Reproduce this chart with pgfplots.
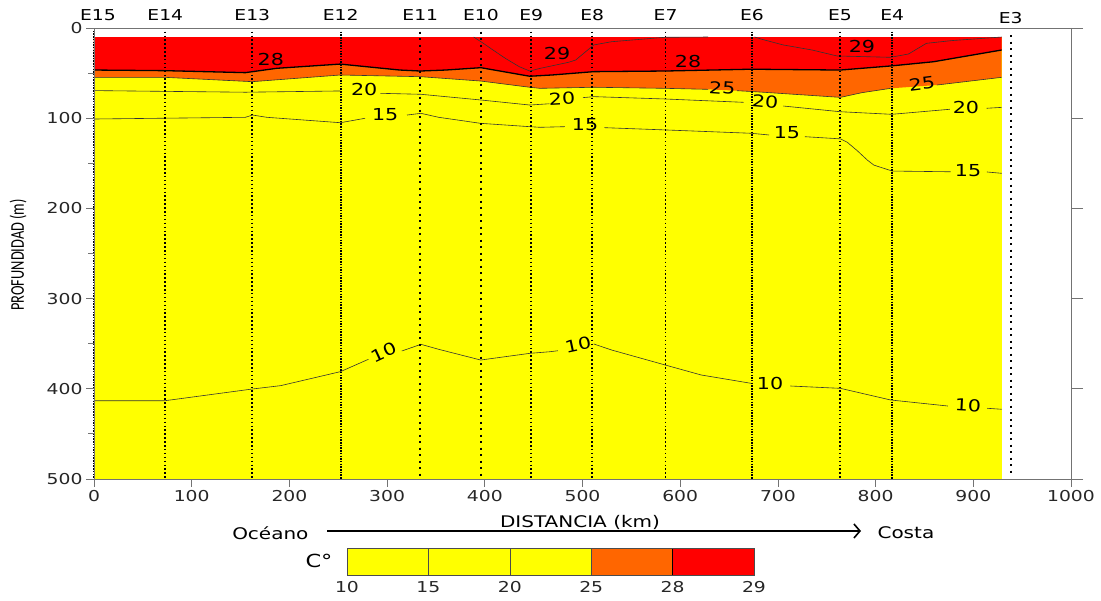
\documentclass[border=0pt]{standalone}
\usepackage{fontspec}
\usepackage{graphicx}
\usepackage{pgfplots}
\pgfplotsset{compat=1.18}
\usetikzlibrary{arrows.meta}
\setmainfont{DejaVu Sans}[FakeStretch=1.25]
\newfontfamily\calfont{Carlito}
\definecolor{cred}{HTML}{FF0000}
\definecolor{corange}{HTML}{FF6600}
\definecolor{cyellow}{HTML}{FFFF00}
\newcommand{\fs}[1]{\fontsize{#1}{#1}\selectfont}
\tikzset{
  dense/.style={black, line width=2pt, dash pattern=on 1.5pt off 1.2pt},
  medium/.style={black, line width=1.8pt, dash pattern=on 1.5pt off 2.4pt},
  sparse/.style={black, line width=2pt, dash pattern=on 2pt off 4.5pt},
}
\begin{document}
\begin{tikzpicture}
\useasboundingbox (-94pt,-122pt) rectangle (1007pt,479pt);
\begin{axis}[
  at={(0pt,0pt)}, anchor=south west, scale only axis,
  width=977pt, height=451pt,
  xmin=0, xmax=1000, ymin=0, ymax=500, y dir=reverse,
  xtick={0,100,...,1000}, ytick={0,100,...,500}, minor ytick={50,150,...,450},
  xtick pos=bottom, ytick pos=left, tick align=outside,
  major tick length=8pt, minor tick length=6pt,
  tick style={color=black!55, line width=0.8pt},
  axis line style={black!55, line width=0.8pt},
  tick label style={font=\fs{15}, text=black!85},
  /pgf/number format/assume math mode=true,
  /pgf/number format/1000 sep={},
  axis on top, clip=false,
]
% temperature regions
\addplot[fill=cyellow, draw=none] coordinates {(0,10)(929,10)(929,500)(0,500)} --cycle;
\addplot[fill=corange, draw=none] coordinates {(0,10)(929,10)(929,54.7)(862.8,63.2)(815.4,66.9)(786,71.7)(764,76.9)(676.2,70.6)(658,69.5)(628.5,68)(584.6,66.9)(511.5,65.7)(456.5,66.9)(446,65.7)(395.8,58.8)(334.7,54)(252.2,52.1)(162,59.5)(72.7,54.7)(0,54.7)} --cycle;
\addplot[fill=cred, draw=none] coordinates {(0,10)(929,10)(929,24.4)(859.3,37.4)(815.4,42.1)(764,46.6)(672.4,45.7)(584.4,47.7)(511.5,48.4)(470,52)(446,53.5)(396,44)(360,46.6)(334,47.7)(313,46.6)(252,40)(187,44.7)(155,49.5)(72.7,47.3)(0,46.6)} --cycle;
% isotherm 28
\addplot[black, line width=1.3pt] coordinates {(0,46.6)(72.7,47.3)(155,49.5)(187,44.7)(252,40)(313,46.6)(334,47.7)(360,46.6)(396,44)(446,53.5)(470,52)(511.5,48.4)(584.4,47.7)(672.4,45.7)(764,46.6)(815.4,42.1)(859.3,37.4)(929,24.4)};
% isotherm 25
\addplot[black!80, line width=0.6pt] coordinates {(0,54.7)(72.7,54.7)(162,59.5)(252.2,52.1)(334.7,54)(395.8,58.8)(446,65.7)(456.5,66.9)(511.5,65.7)(584.6,66.9)(628.5,68)};
\addplot[black!80, line width=0.6pt] coordinates {(658,69.5)(676.2,70.6)(764,76.9)(786,71.7)(815.4,66.9)};
\addplot[black!80, line width=0.6pt] coordinates {(862.8,63.2)(929,54.7)};
% isotherm 29
\addplot[black!80, line width=0.6pt] coordinates {(388.6,10)(397.6,16.3)(408.4,24.4)(421,33.6)(435.3,42.9)(446,47.7)(456.9,44.7)(485.8,38)(493,35.5)(511.5,18.8)(529.8,15.2)(584.6,10.3)(628.5,10)};
\addplot[black!80, line width=0.6pt] coordinates {(676.2,10)(683.5,12.5)(705.5,18.8)(735,24.4)(760.5,31)(815.4,32.5)(833.7,28.8)(852,17)(877.6,14)(929,10)};
% isotherm 20
\addplot[black!80, line width=0.6pt] coordinates {(0,69.4)(155,71.2)(252.2,69.8)};
\addplot[black!80, line width=0.6pt] coordinates {(293,72.4)(334.7,73.5)(395.8,79.8)(446,85.4)(466,84)};
\addplot[black!80, line width=0.6pt] coordinates {(500.5,77.2)(511.5,76.1)(584.6,78.7)(665,82.4)};
\addplot[black!80, line width=0.6pt] coordinates {(705.5,86.5)(763.6,92.8)(816.5,95.7)(876,90.1)};
\addplot[black!80, line width=0.6pt] coordinates {(913.7,89)(929,88)};
% isotherm 15
\addplot[black!80, line width=0.6pt] coordinates {(0,100.9)(155,99)(162.3,96.5)(176.8,99)(252.2,105)(277.4,100.1)};
\addplot[black!80, line width=0.6pt] coordinates {(320.4,96.5)(334.7,94.6)(352.7,99)(395.8,105.7)(446,109.4)(456.5,110.1)(482,109.4)};
\addplot[black!80, line width=0.6pt] coordinates {(522.4,110.5)(584.6,113)(672.4,116.7)(690.9,118.6)};
\addplot[black!80, line width=0.6pt] coordinates {(727.5,120.5)(764,122.9)(770.9,126.6)(781.1,135.9)(791.4,146.3)(798.2,152)(817,158.6)(876.9,159.4)};
\addplot[black!80, line width=0.6pt] coordinates {(913.8,159.6)(929.1,161.1)};
% isotherm 10
\addplot[black!80, line width=0.6pt] coordinates {(0,413.2)(72.7,413.2)(162.3,400.2)(191.1,396.5)(252.2,381)(280.9,367.3)};
\addplot[black!80, line width=0.6pt] coordinates {(315,358.1)(334.7,350.7)(352.7,356.2)(395.8,368.1)(446,360.7)(466.7,358.9)(474.8,357.8)};
\addplot[black!80, line width=0.6pt] coordinates {(511.5,350.3)(529.8,357)(584.6,373.6)(621.5,384.7)(672.4,393.9)};
\addplot[black!80, line width=0.6pt] coordinates {(712.8,396.9)(764,399.5)(815.4,412.4)(874,419.1)};
\addplot[black!80, line width=0.6pt] coordinates {(914.2,421.6)(929,422.7)};
% stations
\addplot[dense] coordinates {(0,3)(0,500)};
\addplot[medium] coordinates {(73,4)(73,500)};
\addplot[medium] coordinates {(162,4)(162,500)};
\addplot[dense] coordinates {(252.5,4)(252.5,500)};
\addplot[sparse] coordinates {(334,4)(334,500)};
\addplot[sparse] coordinates {(396,4)(396,500)};
\addplot[medium] coordinates {(447.5,4)(447.5,500)};
\addplot[medium] coordinates {(510,4)(510,500)};
\addplot[medium] coordinates {(585,4)(585,500)};
\addplot[dense] coordinates {(673.5,4)(673.5,500)};
\addplot[medium] coordinates {(763.5,4)(763.5,500)};
\addplot[dense] coordinates {(817,4)(817,500)};
\addplot[sparse, line width=1.8pt] coordinates {(938.3,8)(938.3,495)};
% station names
\begin{scope}[every node/.style={font=\fs{15}, anchor=base, inner sep=0pt}]
\node at (axis cs:4,-8.5) {E15};
\node at (axis cs:73,-8) {E14};
\node at (axis cs:162,-8) {E13};
\node at (axis cs:252.5,-8) {E12};
\node at (axis cs:334,-8) {E11};
\node at (axis cs:396,-8) {E10};
\node at (axis cs:447.5,-8) {E9};
\node at (axis cs:510,-8) {E8};
\node at (axis cs:585,-8) {E7};
\node at (axis cs:673.5,-8) {E6};
\node at (axis cs:763.5,-8) {E5};
\node at (axis cs:817,-8) {E4};
\node at (axis cs:938.3,-4.5) {E3};
\end{scope}
% contour labels
\begin{scope}[every node/.style={font=\fs{16.5}, inner sep=0pt}]
\node at (axis cs:181,35) {28};
\node at (axis cs:608,37.5) {28};
\node at (axis cs:474,28) {29};
\node at (axis cs:786,21) {29};
\node[rotate=-4] at (axis cs:643,66.5) {25};
\node[rotate=7] at (axis cs:847.5,62) {25};
\node at (axis cs:276.5,68.7) {20};
\node[rotate=3] at (axis cs:479,78.7) {20};
\node[rotate=-5] at (axis cs:687,82) {20};
\node at (axis cs:892.5,87.6) {20};
\node at (axis cs:298,96.5) {15};
\node at (axis cs:502.6,107.5) {15};
\node at (axis cs:709.3,116.4) {15};
\node at (axis cs:894.6,158.5) {15};
\node[rotate=25] at (axis cs:297,359.5) {10};
\node[rotate=12] at (axis cs:495.4,351.4) {10};
\node at (axis cs:692,393.6) {10};
\node[rotate=-3] at (axis cs:894.6,418) {10};
\end{scope}
\end{axis}
% right-hand ticks
\begin{axis}[
  at={(0pt,0pt)}, anchor=south west, scale only axis,
  width=977pt, height=451pt,
  xmin=0, xmax=1000, ymin=0, ymax=500, y dir=reverse,
  axis y line*=right, axis x line=none,
  ytick={0,100,...,500}, yticklabels={}, tick align=outside,
  major tick length=12pt,
  tick style={color=black!55, line width=0.8pt},
  axis line style={black!55, line width=0.8pt},
]
\end{axis}
% colour scale
\begin{axis}[
  at={(253pt,-96pt)}, anchor=south west, scale only axis,
  width=407pt, height=27pt,
  xmin=0, xmax=5, ymin=0, ymax=1,
  xtick={0,1,2,3,4,5}, xticklabels={10,15,20,25,28,29},
  ytick=\empty, xtick pos=bottom, major tick length=0pt,
  axis line style={black!70, line width=0.8pt},
  tick label style={font=\fs{15}, text=black!85},
  xticklabel style={yshift=-3pt},
  axis on top,
]
\addplot[fill=cyellow, draw=black!70, line width=0.6pt] coordinates {(0,0)(1,0)(1,1)(0,1)} --cycle;
\addplot[fill=cyellow, draw=black!70, line width=0.6pt] coordinates {(1,0)(2,0)(2,1)(1,1)} --cycle;
\addplot[fill=cyellow, draw=black!70, line width=0.6pt] coordinates {(2,0)(3,0)(3,1)(2,1)} --cycle;
\addplot[fill=corange, draw=black!70, line width=0.6pt] coordinates {(3,0)(4,0)(4,1)(3,1)} --cycle;
\addplot[fill=cred, draw=black!70, line width=0.6pt] coordinates {(4,0)(5,0)(5,1)(4,1)} --cycle;
\addplot[black, line width=1.2pt] coordinates {(4,0)(4,1)};
\end{axis}
\node[font=\fs{18}] at (225pt,-82pt) {C°};
\node[font=\fs{16}] at (486pt,-43pt) {DISTANCIA (km)};
\node[font=\fs{16}, anchor=east] at (218pt,-54pt) {Océano};
\node[font=\fs{16}, anchor=west] at (780pt,-54pt) {Costa};
\draw[line width=1.6pt, -{Straight Barb[length=6pt,width=14pt,line width=1.6pt]}] (233pt,-52pt) -- (767pt,-52pt);
\node[rotate=90] at (-76pt,224pt) {\scalebox{1}[1.35]{\calfont\fs{14.4}PROFUNDIDAD (m)}};
\end{tikzpicture}
\end{document}
